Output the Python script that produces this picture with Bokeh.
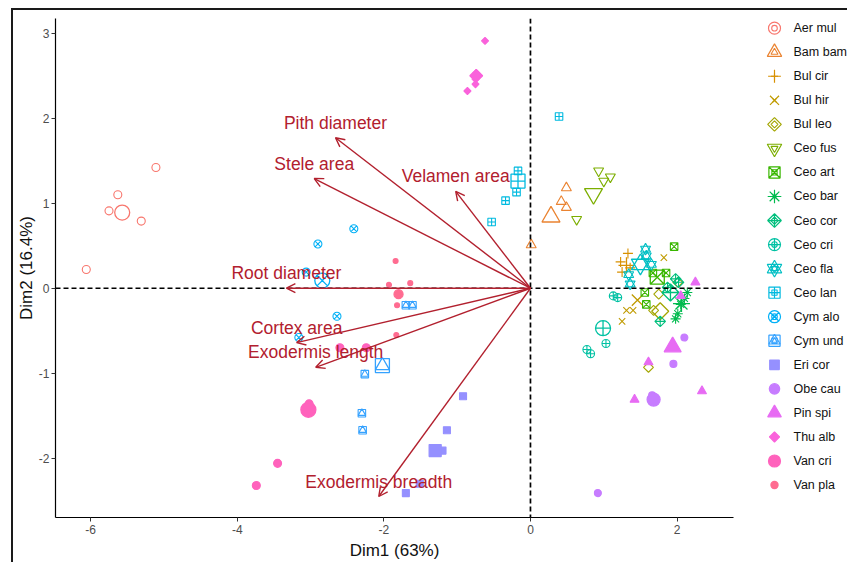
import math
from bokeh.plotting import figure
from bokeh.models import Range1d, FixedTicker, Span, Arrow, OpenHead, ColumnDataSource
from bokeh.layouts import row
from bokeh.core.properties import value
from bokeh.embed import file_html
from bokeh.resources import INLINE

# ---------------- data ----------------
SPECIES = ["Aer mul", "Bam bam", "Bul cir", "Bul hir", "Bul leo", "Ceo  fus", "Ceo art",
           "Ceo bar", "Ceo cor", "Ceo cri", "Ceo fla", "Ceo lan", "Cym alo", "Cym und",
           "Eri cor", "Obe cau", "Pin spi", "Thu alb", "Van cri", "Van pla"]
COLORS = ["#F8766D", "#EA8331", "#D89000", "#C09B00", "#A3A500", "#7CAE00", "#39B600",
          "#00BB4E", "#00BF7D", "#00C1A3", "#00BFC4", "#00BAE0", "#00B0F6", "#35A2FF",
          "#9590FF", "#C77CFF", "#E76BF3", "#FA62DB", "#FF62BC", "#FF6C91"]

AER_MUL_X = [-6.06, -5.75, -5.63, -5.31, -5.11]
AER_MUL_Y = [0.22, 0.91, 1.10, 0.79, 1.42]
BAM_BAM_X = [0.49, 0.42, 0.49, 0.01]
BAM_BAM_Y = [1.18, 1.02, 0.95, 0.51]
BUL_CIR_X = [1.33, 1.23, 1.25, 1.36]
BUL_CIR_Y = [0.41, 0.31, 0.19, 0.24]
BUL_HIR_X = [1.82, 1.31, 1.40, 1.25]
BUL_HIR_Y = [0.36, -0.26, -0.26, -0.39]
BUL_LEO_X = [1.75, 1.68, 2.01, 1.61]
BUL_LEO_Y = [-0.07, -0.26, 0.07, -0.93]
CEO_FUS_X = [0.93, 1.00, 1.09, 0.63]
CEO_FUS_Y = [1.38, 1.26, 1.31, 0.81]
CEO_ART_X = [1.96, 1.85, 1.67, 1.56, 1.58]
CEO_ART_Y = [0.49, 0.18, 0.18, -0.05, -0.19]
CEO_BAR_X = [2.14, 2.10, 2.05, 2.01, 1.98]
CEO_BAR_Y = [-0.05, -0.12, -0.19, -0.30, -0.36]
CEO_COR_X = [1.98, 1.77, 1.87, 2.02]
CEO_COR_Y = [0.11, -0.39, 0.01, 0.07]
CEO_CRI_X = [1.13, 1.19, 1.03, 0.77, 0.82]
CEO_CRI_Y = [-0.09, -0.11, -0.65, -0.72, -0.77]
CEO_FLA_X = [1.57, 1.58, 1.65, 1.34, 1.36]
CEO_FLA_Y = [0.46, 0.38, 0.28, 0.16, 0.05]
CEO_LAN_X = [0.39, -0.17, -0.19, -0.34, -0.53]
CEO_LAN_Y = [2.02, 1.38, 1.13, 1.03, 0.78]
CYM_ALO_X = [-2.41, -2.90, -2.64, -3.16, -3.06]
CYM_ALO_Y = [0.70, 0.52, -0.33, -0.58, 0.19]
CYM_UND_X = [-2.26, -2.30, -2.29, -1.70, -1.61]
CYM_UND_Y = [-1.01, -1.47, -1.67, -0.20, -0.20]
ERI_COR_X = [-0.92, -1.14, -1.20, -1.51, -1.70]
ERI_COR_Y = [-1.27, -1.67, -1.91, -2.30, -2.41]
OBE_CAU_X = [2.10, 1.95, 0.92, 1.66]
OBE_CAU_Y = [-0.58, -0.89, -2.41, -1.26]
PIN_SPI_X = [2.25, 2.05, 1.61, 1.42, 2.34]
PIN_SPI_Y = [0.07, -0.09, -0.87, -1.31, -1.21]
THU_ALB_X = [-0.62, -0.74, -0.75, -0.75, -0.86]
THU_ALB_Y = [2.91, 2.53, 2.46, 2.40, 2.32]
VAN_CRI_X = [-2.60, -2.24, -3.02, -3.45, -3.74]
VAN_CRI_Y = [-0.70, -0.70, -1.36, -2.06, -2.32]
VAN_PLA_X = [-1.84, -1.93, -1.64, -1.82, -1.83]
VAN_PLA_Y = [0.32, 0.04, 0.06, -0.20, -0.55]

CENTROID_X = [-5.57, 0.28, 1.31, 1.46, 1.77, 0.86, 1.73, 2.06, 1.91, 0.99,
              1.50, -0.17, -2.84, -2.02, -1.30, 1.68, 1.94, -0.74, -3.03, -1.80]
CENTROID_Y = [0.89, 0.84, 0.27, -0.14, -0.27, 1.11, 0.13, -0.18, -0.05, -0.47,
              0.28, 1.26, 0.09, -0.91, -1.91, -1.31, -0.69, 2.50, -1.43, -0.07]

VARIABLES = ["Pith diameter", "Stele area", "Velamen area", "Root diameter",
             "Cortex area", "Exodermis length", "Exodermis breadth"]
VAR_X = [-2.66, -2.95, -1.02, -3.33, -3.19, -2.93, -2.07]
VAR_Y = [1.77, 1.29, 1.14, 0.00, -0.64, -0.93, -2.45]

X_TICKS = [-6, -4, -2, 0, 2]
X_TICK_LABELS = ["-6", "-4", "-2", "0", "2"]
Y_TICKS = [-2, -1, 0, 1, 2, 3]
Y_TICK_LABELS = ["-2", "-1", "0", "1", "2", "3"]
X_TITLE = "Dim1 (63%)"
Y_TITLE = "Dim2 (16.4%)"

POINTS_X = [AER_MUL_X, BAM_BAM_X, BUL_CIR_X, BUL_HIR_X, BUL_LEO_X, CEO_FUS_X, CEO_ART_X,
            CEO_BAR_X, CEO_COR_X, CEO_CRI_X, CEO_FLA_X, CEO_LAN_X, CYM_ALO_X, CYM_UND_X,
            ERI_COR_X, OBE_CAU_X, PIN_SPI_X, THU_ALB_X, VAN_CRI_X, VAN_PLA_X]
POINTS_Y = [AER_MUL_Y, BAM_BAM_Y, BUL_CIR_Y, BUL_HIR_Y, BUL_LEO_Y, CEO_FUS_Y, CEO_ART_Y,
            CEO_BAR_Y, CEO_COR_Y, CEO_CRI_Y, CEO_FLA_Y, CEO_LAN_Y, CYM_ALO_Y, CYM_UND_Y,
            ERI_COR_Y, OBE_CAU_Y, PIN_SPI_Y, THU_ALB_Y, VAN_CRI_Y, VAN_PLA_Y]

# ---------------- styles ----------------
Q = math.pi / 4
MARKERS = [
    [("circle", 0, False)],
    [("triangle", 0, False)],
    [("cross", 0, False)],
    [("x", 0, False)],
    [("square", Q, False)],
    [("inverted_triangle", 0, False)],
    [("square_x", 0, False)],
    [("asterisk", 0, False)],
    [("square_x", Q, False)],
    [("circle_cross", 0, False)],
    [("triangle", 0, False), ("inverted_triangle", 0, False)],
    [("square_cross", 0, False)],
    [("circle_x", 0, False)],
    [("square", 0, False), ("triangle", 0, False)],
    [("square", 0, True)],
    [("circle", 0, True)],
    [("triangle", 0, True)],
    [("square", Q, True)],
    [("circle", 0, True)],
    [("circle", 0, True)],
]
IND_SIZE = [8, 10, 10, 9, 7, 10, 7.5, 10, 7.5, 8, 10, 7.5, 8, 7.5, 7, 7, 9, 5, 8, 5]
CEN_SIZE = [15, 18, 16, 16, 12, 18, 14, 17, 12, 15, 18, 14, 15, 14, 12, 13, 17, 9, 15, 9]

ARROW_COLOR = "#B2202E"
FONT = "Liberation Sans"

# ---------------- main plot ----------------
p = figure(width=742, height=552, output_backend="svg", toolbar_location=None,
           x_range=Range1d(-6.48, 2.77), y_range=Range1d(-2.697, 3.173),
           min_border_left=42, min_border_right=22, min_border_top=8, min_border_bottom=45)
p.outline_line_color = None
p.xgrid.visible = False
p.ygrid.visible = False
p.background_fill_color = "white"
p.border_fill_color = "white"

p.add_layout(Span(location=0, dimension="width", line_color="black", line_width=1.7,
                  line_dash="5 3"))
p.add_layout(Span(location=0, dimension="height", line_color="black", line_width=1.7,
                  line_dash="5 3"))

for i, name in enumerate(SPECIES):
    col = COLORS[i]
    for (mk, ang, filled) in MARKERS[i]:
        p.scatter(x=POINTS_X[i], y=POINTS_Y[i], marker=mk, angle=ang, size=IND_SIZE[i],
                  line_color=col, fill_color=col if filled else None, line_width=1.1)
    for (mk, ang, filled) in MARKERS[i]:
        p.scatter(x=[CENTROID_X[i]], y=[CENTROID_Y[i]], marker=mk, angle=ang,
                  size=CEN_SIZE[i], line_color=col, fill_color=col if filled else None,
                  line_width=1.3)

asrc = ColumnDataSource(dict(x0=[0.0] * len(VAR_X), y0=[0.0] * len(VAR_Y), x1=VAR_X, y1=VAR_Y,
                             label=VARIABLES))
p.add_layout(Arrow(end=OpenHead(size=9, line_color=ARROW_COLOR, line_width=1.4),
                   x_start="x0", y_start="y0", x_end="x1", y_end="y1", source=asrc,
                   line_color=ARROW_COLOR, line_width=1.4))
p.text(x="x1", y="y1", text="label", source=asrc, text_align="center",
       text_baseline="middle", y_offset=-15, text_color=ARROW_COLOR,
       text_font=value(FONT), text_font_size="17.5px")

for ax, ticks, labels, title in ((p.xaxis, X_TICKS, X_TICK_LABELS, X_TITLE),
                                 (p.yaxis, Y_TICKS, Y_TICK_LABELS, Y_TITLE)):
    ax.ticker = FixedTicker(ticks=ticks)
    ov = {}
    for t, l in zip(ticks, labels):
        ov[t] = l
        ov[str(t)] = l
    ax.major_label_overrides = ov
    ax.minor_tick_line_color = None
    ax.major_tick_in = 0
    ax.major_tick_out = 4
    ax.major_tick_line_color = "#333333"
    ax.axis_line_color = "black"
    ax.axis_line_width = 1.2
    ax.major_label_text_font = FONT
    ax.major_label_text_font_size = "12px"
    ax.major_label_text_color = "#4D4D4D"
    ax.axis_label = title
    ax.axis_label_text_font = FONT
    ax.axis_label_text_font_size = "17px"
    ax.axis_label_text_font_style = "normal"
    ax.axis_label_text_color = "#111111"
p.xaxis.major_label_standoff = 3
p.xaxis.axis_label_standoff = 4
p.yaxis.major_label_standoff = 2
p.yaxis.axis_label_standoff = 0

# ---------------- legend panel ----------------
n = len(SPECIES)
leg = figure(width=92, height=552, output_backend="svg", toolbar_location=None,
             x_range=Range1d(0, 92), y_range=Range1d(20.35, -0.402),
             min_border=0, min_border_left=0, min_border_right=0,
             min_border_top=0, min_border_bottom=0)
leg.axis.visible = False
leg.xgrid.visible = False
leg.ygrid.visible = False
leg.outline_line_color = None
leg.border_fill_color = "white"

for i, name in enumerate(SPECIES):
    col = COLORS[i]
    for (mk, ang, filled) in MARKERS[i]:
        leg.scatter(x=[19], y=[i], marker=mk, angle=ang, size=IND_SIZE[i] * 0.7,
                    line_color=col, fill_color=col if filled else None, line_width=1.1)
        leg.scatter(x=[19], y=[i], marker=mk, angle=ang, size=CEN_SIZE[i] * 0.8,
                    line_color=col, fill_color=col if filled else None, line_width=1.2)
leg.text(x=[38] * n, y=list(range(n)), text=SPECIES, text_align="left",
         text_baseline="middle", text_color="#111111", text_font=value(FONT),
         text_font_size="12.5px")

layout = row(p, leg, styles={"margin-left": "11px", "margin-top": "8px",
                             "border-top": "2px solid #1a1a1a",
                             "border-left": "2px solid #1a1a1a"})

open("out.html", "w").write(file_html(layout, INLINE))
